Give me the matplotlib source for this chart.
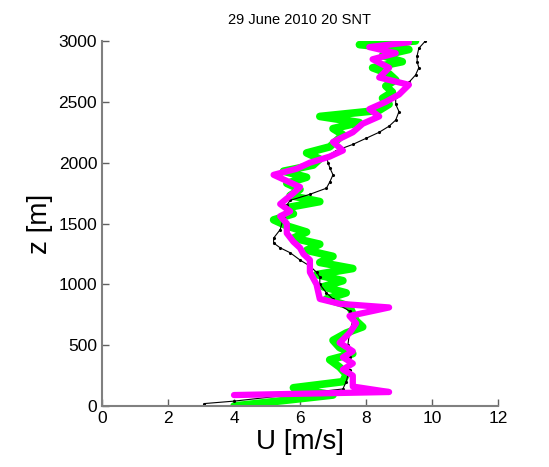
import matplotlib.pyplot as plt

plt.rcParams['font.family'] = ['Liberation Sans', 'DejaVu Sans']

# black profile (thin, dotted)
obs_z = [20, 40, 140, 200, 300, 400, 500, 600, 700, 780, 830, 880, 930, 1000, 1060,
         1100, 1150, 1200, 1260, 1300, 1340, 1380, 1450, 1550, 1600, 1650, 1690,
         1740, 1790, 1840, 1900, 1960, 2000, 2050, 2100, 2150, 2200, 2250, 2300,
         2350, 2420, 2480, 2540, 2600, 2660, 2720, 2780, 2830, 2880, 2940, 3000]
obs_u = [3.1, 4.0, 7.3, 7.4, 7.5, 7.5, 7.45, 7.5, 7.6, 7.5, 7.2, 7.0, 6.8, 6.6, 6.6,
         6.5, 6.3, 6.0, 5.7, 5.4, 5.2, 5.2, 5.4, 5.5, 5.55, 5.6, 5.7,
         6.3, 6.8, 6.9, 7.0, 6.9, 6.85, 6.8, 7.1, 7.6, 8.0, 8.4, 8.7,
         8.9, 9.0, 8.9, 8.9, 9.1, 9.3, 9.5, 9.6, 9.55, 9.55, 9.6, 9.8]

# green profile (thick)
grn_z = [0, 90, 150, 200, 260, 320, 380, 430, 480, 540, 600, 650, 700, 760, 820,
         880, 930, 980, 1030, 1080, 1130, 1180, 1230, 1280, 1330, 1380, 1430, 1480,
         1530, 1580, 1630, 1680, 1730, 1780, 1830, 1880, 1930, 1980, 2030, 2080,
         2130, 2180, 2230, 2280, 2330, 2380, 2430, 2480, 2530, 2580, 2630, 2680,
         2730, 2780, 2830, 2880, 2930, 2970, 3000]
grn_u = [4.0, 7.0, 5.8, 7.3, 7.4, 7.2, 6.9, 7.6, 7.2, 7.0, 7.4, 7.9, 7.7, 7.6, 7.5,
         6.8, 7.4, 6.7, 7.3, 6.5, 7.6, 6.6, 7.0, 6.2, 6.6, 5.8, 6.2, 5.6,
         5.2, 5.8, 5.6, 6.6, 5.7, 6.0, 5.6, 6.2, 5.5, 6.4, 6.6, 6.2,
         6.9, 7.1, 7.3, 7.0, 7.8, 6.6, 8.4, 8.7, 8.5, 8.8, 8.6, 8.9,
         8.7, 8.2, 9.1, 8.5, 9.3, 7.8, 9.5]

# magenta profile (thick)
mag_z = [90, 115, 160, 250, 300, 350, 400, 450, 520, 600, 680, 740, 810, 840,
         880, 1000, 1100, 1200, 1250, 1300, 1350, 1420, 1500, 1560, 1600, 1660,
         1750, 1800, 1850, 1900, 1950, 2000, 2050, 2100, 2170, 2250, 2320, 2380,
         2440, 2500, 2560, 2640, 2700, 2780, 2850, 2900, 2950, 2990]
mag_u = [4.0, 8.7, 7.6, 7.6, 7.3, 7.6, 7.3, 7.6, 7.2, 7.5, 7.7, 7.5, 8.7, 7.2,
         6.6, 6.5, 6.3, 6.3, 6.1, 6.0, 5.8, 5.6, 5.6, 5.4, 5.7, 5.4,
         5.8, 6.0, 5.6, 5.2, 5.9, 6.3, 6.9, 7.3, 7.0, 7.6, 7.9, 8.4,
         8.1, 8.6, 9.0, 9.3, 8.4, 8.7, 8.2, 8.9, 8.1, 9.3]

fig = plt.figure(figsize=(5.49, 4.67), dpi=100)
ax = fig.add_axes([102/549, 1 - 406/467, 396/549, 365/467])

ax.plot(grn_u, grn_z, color='#00ff00', linewidth=5.5, solid_capstyle='round',
        solid_joinstyle='round')
ax.plot(obs_u, obs_z, 'k.-', linewidth=0.8, markersize=2.5)
ax.plot(mag_u, mag_z, color='#ff00ff', linewidth=4.5, solid_capstyle='round',
        solid_joinstyle='round')

ax.set_xlim(0, 12)
ax.set_ylim(0, 3000)
ax.set_xticks([0, 2, 4, 6, 8, 10, 12])
ax.set_yticks([0, 500, 1000, 1500, 2000, 2500, 3000])
ax.spines['top'].set_visible(False)
ax.spines['right'].set_visible(False)
for s in ['left', 'bottom']:
    ax.spines[s].set_color('#808080')
    ax.spines[s].set_linewidth(1.5)
ax.tick_params(direction='in', length=5, width=1, color='#606060',
               labelsize=12.5, labelcolor='black')

ax.set_xlabel('U [m/s]', fontsize=20, labelpad=2)
ax.set_ylabel('z [m]', fontsize=20, labelpad=4)
ax.set_title('29 June 2010 20 SNT', fontsize=10.5, pad=12)

plt.savefig('out.png', dpi=100)
